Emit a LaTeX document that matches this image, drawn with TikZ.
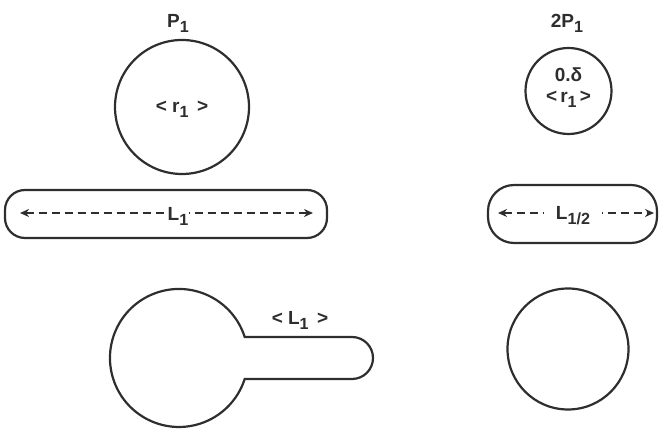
\documentclass[tikz,border=0pt]{standalone}
\usepackage{fontspec}
\setmainfont{Liberation Sans}
\usetikzlibrary{arrows.meta}
\newcommand{\lsub}[1]{\raisebox{-0.5ex}{\scalebox{0.85}{#1}}}
\definecolor{ink}{HTML}{2E2E2E}
\tikzset{
  shapeline/.style={draw=ink, line width=2.2pt},
  ring/.style={shapeline, circle, inner sep=0pt, minimum size=#1},
  pill/.style={shapeline, rectangle, rounded corners=20pt, inner sep=0pt},
  lbl/.style={text=ink, font=\fontsize{19}{21}\selectfont\bfseries, inner sep=1pt},
  dimarrow/.style={draw=ink, line width=2pt, dash pattern=on 8pt off 5pt, {Stealth[length=9pt,width=8pt]}-{Stealth[length=9pt,width=8pt]}},
}
\begin{document}
\begin{tikzpicture}[x=1pt,y=1pt]
\useasboundingbox (0,0) rectangle (661,430);
% left column
\node[ring=134pt] (c1) at (182,323) {};
\node[lbl] (p1) at (178,407) {P\lsub{1}};
\node[lbl] (r1) at (182,321) {< r\lsub{1} \,>};
\node[pill, minimum width=322pt, minimum height=48pt] (pl1) at (166,216) {};
\coordinate (a1l) at (20,217);
\coordinate (a1r) at (313,217);
\draw[dimarrow] (a1l) -- (a1r);
\node[lbl, fill=white, inner sep=0.5pt] (l1) at (178,214) {L\lsub{1}};
% key shape
\draw[shapeline] (244.7,93) arc[start angle=17.7, end angle=342.3, radius=69] -- (352,51) arc[start angle=-90, end angle=90, radius=21] -- cycle;
\node[lbl] (kl) at (300,110) {< L\lsub{1} \,>};
% right column
\node[ring=86pt] (c2) at (568.5,339) {};
\node[lbl] (p2) at (567,407) {2P\lsub{1}};
\node[lbl] (d2) at (568.5,355) {0.δ};
\node[lbl] (r2) at (568.5,331) {<\,r\lsub{1}\,>};
\node[pill, rounded corners=26pt, minimum width=169pt, minimum height=58pt] (pl2) at (572.5,216) {};
\coordinate (a2l) at (498,217);
\coordinate (a2r) at (654,217);
\draw[dimarrow] (a2l) -- (a2r);
\node[lbl, fill=white, inner xsep=12pt, inner ysep=3pt] (l2) at (573,214) {L\lsub{1/2}};
\node[ring=121pt] (c3) at (568,81) {};
\end{tikzpicture}
\end{document}
